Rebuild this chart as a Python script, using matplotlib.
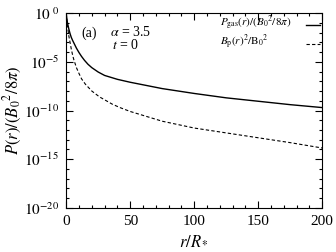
import matplotlib
matplotlib.use('Agg')
import matplotlib.pyplot as plt
import numpy as np

plt.rcParams['font.family'] = ['Liberation Serif', 'DejaVu Serif']
plt.rcParams['mathtext.fontset'] = 'stix'

# values (log10 of the plotted quantity)
r_gas = [0, 0.5, 1, 2, 3, 4, 5, 6.5, 8, 10, 12, 14.3, 17, 20, 25, 30, 40,
         50, 75, 100, 125, 150, 175, 200]
log_pgas = [0, -0.6, -1.0, -1.6, -2.1, -2.5, -2.8, -3.2, -3.6, -4.05, -4.45,
            -4.85, -5.25, -5.6, -6.05, -6.4, -6.8, -7.1, -7.75, -8.25, -8.7,
            -9.05, -9.4, -9.7]

r_bp = [0, 0.5, 1, 2, 3, 4, 5, 6, 8, 10, 12, 15, 20, 26, 30, 36, 42, 50,
        75, 100, 125, 150, 175, 200]
log_bp = [0, -0.7, -1.3, -2.3, -3.0, -3.7, -4.3, -4.8, -5.6, -6.2, -6.75,
          -7.3, -8.0, -8.6, -8.9, -9.35, -9.7, -10.1, -11.1, -11.8, -12.3,
          -12.8, -13.3, -13.85]

labels = [r'$P_{\rm gas}(r)/(B_0{}^2/8\pi)$', r'$B_{\rm p}(r)^2/{\rm B}_0{}^2$']

pgas = 10.0 ** np.array(log_pgas)
bp = 10.0 ** np.array(log_bp)

fig = plt.figure(figsize=(3.36, 2.52), dpi=100)
ax = fig.add_axes([0.197, 0.175, 0.762, 0.773])

solid_style = dict(color='black', lw=1.0)
dash_style = dict(color='black', lw=0.8, ls=(0, (3, 2)))

ax.plot(r_gas, pgas, **solid_style)
ax.plot(r_bp, bp, **dash_style)

ax.set_yscale('log')
ax.set_xlim(0, 200)
ax.set_ylim(1e-20, 1)
ax.set_yticks([1e0, 1e-5, 1e-10, 1e-15, 1e-20])
ax.set_yticklabels([r'$10^{\ 0}$', r'$10^{-5}$', r'$10^{-10}$',
                    r'$10^{-15}$', r'$10^{-20}$'])
ax.set_yticks([10.0 ** k for k in range(-20, 1) if k % 5 != 0], minor=True)
ax.set_xticks([0, 50, 100, 150, 200])
ax.set_xticks(np.arange(0, 201, 10), minor=True)
ax.tick_params(which='both', direction='in', top=True, right=True,
               labelsize=11, width=0.8)
ax.tick_params(which='major', length=5, pad=5)
ax.tick_params(which='minor', length=2.5)
ax.tick_params(axis='y', which='minor', labelleft=False)

ax.set_xlabel(r'$r/R_*$', fontsize=12, labelpad=4)
ax.set_ylabel(r'$P(r)/(B_0{}^2/8\pi)$', fontsize=12, labelpad=0)

ax.text(0.06, 0.897, '(a)', transform=ax.transAxes, fontsize=10, va='center')
ax.text(0.17, 0.902, r'$\alpha$ = 3.5', transform=ax.transAxes, fontsize=10,
        va='center')
ax.text(0.178, 0.835, r'$t$ = 0', transform=ax.transAxes, fontsize=10,
        va='center')

# legend: labels left aligned, line samples on the right
for lab, yy, st in zip(labels, [0.947, 0.85], [solid_style, dash_style]):
    ax.text(0.6, yy, lab, transform=ax.transAxes, fontsize=8, va='center')
    ax.plot([0.937, 0.99], [yy - 0.008, yy - 0.008], transform=ax.transAxes,
            clip_on=False, **st)

fig.savefig('out.png', dpi=100)
